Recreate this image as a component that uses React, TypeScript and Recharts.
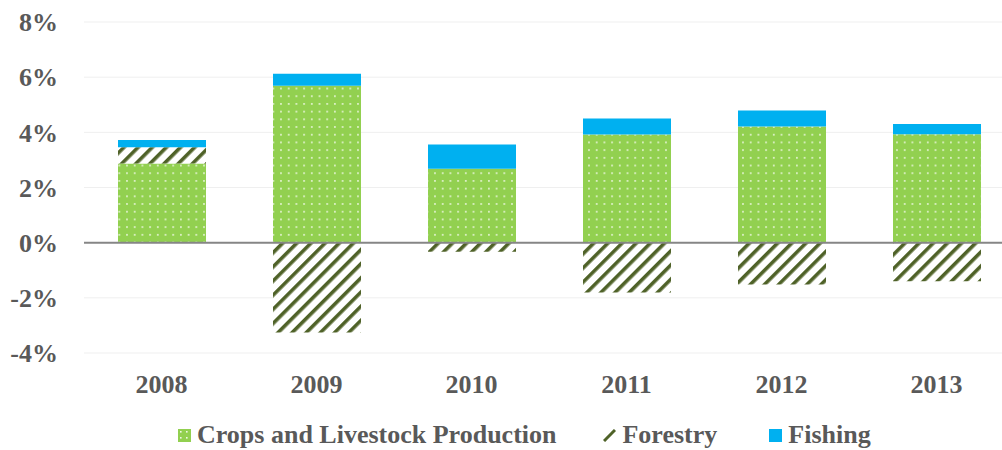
import React from 'react';
import { BarChart, Bar, XAxis, YAxis, CartesianGrid, ReferenceLine } from 'recharts';

const years = ['2008', '2009', '2010', '2011', '2012', '2013'];
const crops = [2.87, 5.69, 2.68, 3.92, 4.21, 3.93];
const forestry = [0.59, -3.26, -0.33, -1.81, -1.52, -1.4];
const fishing = [0.26, 0.43, 0.88, 0.58, 0.58, 0.37];
const yTicks = [-4, -2, 0, 2, 4, 6, 8];

const data = years.map((y, i) => ({ year: y, crops: crops[i], forestry: forestry[i], fishing: fishing[i] }));

const FONT = "'Liberation Serif', 'Times New Roman', serif";
const TEXT = '#595959';
const GREEN = '#92D050';
const OLIVE = '#4F6228';
const BLUE = '#00B0F0';

const Defs = () => (
  <defs>
    <pattern id="dots" width="7.7" height="7.7" patternUnits="userSpaceOnUse">
      <rect width="7.7" height="7.7" fill={GREEN} />
      <rect x="3" y="3" width="1.6" height="1.6" fill="#ffffff" opacity="0.85" />
    </pattern>
    <pattern id="stripes" width="10" height="10" patternUnits="userSpaceOnUse" patternTransform="rotate(45)">
      <rect width="10" height="10" fill="#ffffff" />
      <rect width="3.6" height="10" fill={OLIVE} />
    </pattern>
  </defs>
);

const legendItems = [
  { label: 'Crops and Livestock Production', kind: 'dots', gapAfter: 47 },
  { label: 'Forestry', kind: 'stripes', gapAfter: 52 },
  { label: 'Fishing', kind: 'solid', gapAfter: 0 },
];

const LegendBox = () => (
  <div
    style={{
      position: 'absolute',
      left: 178,
      top: 420,
      display: 'flex',
      alignItems: 'center',
      fontFamily: FONT,
      fontWeight: 'bold',
      fontSize: 26,
      color: TEXT,
      whiteSpace: 'nowrap',
    }}
  >
    {legendItems.map((it) => (
      <div key={it.label} style={{ display: 'flex', alignItems: 'center', marginRight: it.gapAfter }}>
        <svg width={13} height={13} style={{ marginRight: 6 }}>
          <defs>
            <pattern id="lg-dots" width="6" height="6" patternUnits="userSpaceOnUse">
              <rect width="6" height="6" fill={GREEN} />
              <rect x="2" y="2" width="1.6" height="1.6" fill="#ffffff" opacity="0.85" />
            </pattern>
          </defs>
          {it.kind === 'stripes' ? (
            <line x1={1} y1={12} x2={12} y2={1} stroke={OLIVE} strokeWidth={3} />
          ) : (
            <rect width={13} height={13} fill={it.kind === 'dots' ? 'url(#lg-dots)' : BLUE} />
          )}
        </svg>
        <span>{it.label}</span>
      </div>
    ))}
  </div>
);

export default function App() {
  return (
    <div style={{ position: 'absolute', left: 0, top: 0, width: 1002, height: 450, overflow: 'hidden', background: '#fff' }}>
      <BarChart
        width={1014}
        height={450}
        data={data}
        stackOffset="sign"
        barSize={88}
        margin={{ top: 22, right: 0, left: 0, bottom: 57 }}
      >
        <Defs />
        <CartesianGrid vertical={false} stroke="#EFEFEF" strokeWidth={1} />
        <XAxis
          dataKey="year"
          axisLine={false}
          tickLine={false}
          tickMargin={16}
          tick={{ fill: TEXT, fontFamily: FONT, fontWeight: 'bold', fontSize: 26 }}
          height={40}
        />
        <YAxis
          width={84}
          domain={[-4, 8]}
          ticks={yTicks}
          axisLine={false}
          tickLine={false}
          tickMargin={20}
          tickFormatter={(v: number) => `${v}%`}
          tick={{ fill: TEXT, fontFamily: FONT, fontWeight: 'bold', fontSize: 26 }}
          interval={0}
        />
        <Bar dataKey="crops" stackId="a" fill="url(#dots)" isAnimationActive={false} />
        <Bar dataKey="forestry" stackId="a" fill="url(#stripes)" isAnimationActive={false} />
        <Bar dataKey="fishing" stackId="a" fill={BLUE} isAnimationActive={false} />
        <ReferenceLine y={0} stroke="#868686" strokeWidth={2} />
      </BarChart>
      <LegendBox />
    </div>
  );
}
